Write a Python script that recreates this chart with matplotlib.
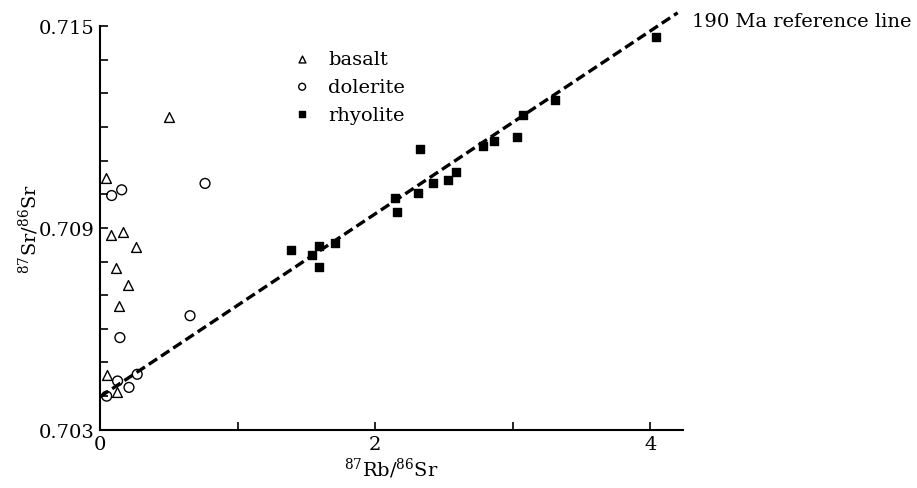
import matplotlib
matplotlib.use("Agg")
import matplotlib.pyplot as plt
from matplotlib.ticker import MultipleLocator, FixedLocator

plt.rcParams["font.family"] = ["DejaVu Serif"]
plt.rcParams["mathtext.fontset"] = "dejavuserif"

# ── data ───────────────────────────────────────────────────
basalt_x = [0.504, 0.041, 0.080, 0.165, 0.260, 0.116, 0.206, 0.140, 0.049, 0.121]
basalt_y = [0.71229, 0.71048, 0.70880, 0.70887, 0.70843, 0.70781, 0.70729, 0.70669, 0.70464, 0.70411]

dolerite_x = [0.085, 0.158, 0.764, 0.655, 0.145, 0.271, 0.128, 0.211, 0.049]
dolerite_y = [0.70996, 0.71013, 0.71032, 0.70639, 0.70574, 0.70465, 0.70445, 0.70426, 0.70400]

rhyolite_x = [1.389, 1.544, 1.593, 1.595, 1.711, 2.145, 2.158, 2.327, 2.315,
              2.420, 2.533, 2.587, 2.783, 2.865, 3.033, 3.074, 3.309, 4.044]
rhyolite_y = [0.70833, 0.70819, 0.70847, 0.70783, 0.70855, 0.70988, 0.70948, 0.71133, 0.71004,
              0.71034, 0.71042, 0.71067, 0.71143, 0.71159, 0.71171, 0.71235, 0.71279, 0.71466]

# 190 Ma reference line end points
ref_x = [0.0, 4.20]
ref_y = [0.70398, 0.71539]

x_ticks = [0, 1, 2, 3, 4]
x_ticklabels = ["0", "", "2", "", "4"]
y_ticks = [0.703, 0.709, 0.715]
y_ticklabels = ["0.703", "0.709", "0.715"]

fig = plt.figure(figsize=(9.17, 4.89), dpi=100)
ax = fig.add_axes([0.109, 0.119, 0.636, 0.826])

ax.plot(ref_x, ref_y, color="black", lw=2.4, dashes=(3, 1.4), zorder=2, clip_on=False)
ax.scatter(basalt_x, basalt_y, marker="^", s=50, facecolors="white", edgecolors="black",
           linewidths=1.0, zorder=3, label="basalt", clip_on=False)
ax.scatter(dolerite_x, dolerite_y, marker="o", s=50, facecolors="none", edgecolors="black",
           linewidths=1.0, zorder=3, label="dolerite", clip_on=False)
ax.scatter(rhyolite_x, rhyolite_y, marker="s", s=40, color="black", zorder=3,
           label="rhyolite", clip_on=False)

ax.set_xlim(0, 4.24)
ax.set_ylim(0.703, 0.715)
ax.spines["top"].set_visible(False)
ax.spines["right"].set_visible(False)
for sp in ("left", "bottom"):
    ax.spines[sp].set_linewidth(1.5)

ax.xaxis.set_major_locator(FixedLocator(x_ticks))
ax.set_xticklabels(x_ticklabels)
ax.yaxis.set_major_locator(FixedLocator(y_ticks))
ax.set_yticklabels(y_ticklabels)
ax.yaxis.set_minor_locator(MultipleLocator(0.001))
ax.tick_params(axis="both", which="both", direction="in", length=6, width=1.2,
               labelsize=14, pad=4)

ax.set_xlabel(r"$^{87}$Rb/$^{86}$Sr", fontsize=14, labelpad=2)
ax.set_ylabel(r"$^{87}$Sr/$^{86}$Sr", fontsize=14, labelpad=-2)

ax.legend(loc="upper left", bbox_to_anchor=(0.33, 0.94), frameon=False, fontsize=14,
          markerscale=0.7, handlelength=1.0, handletextpad=0.85, labelspacing=0.5,
          borderaxespad=0, borderpad=0)

fig.text(0.755, 0.955, "190 Ma reference line", fontsize=14, ha="left", va="center")

fig.savefig("out.png", dpi=100)
